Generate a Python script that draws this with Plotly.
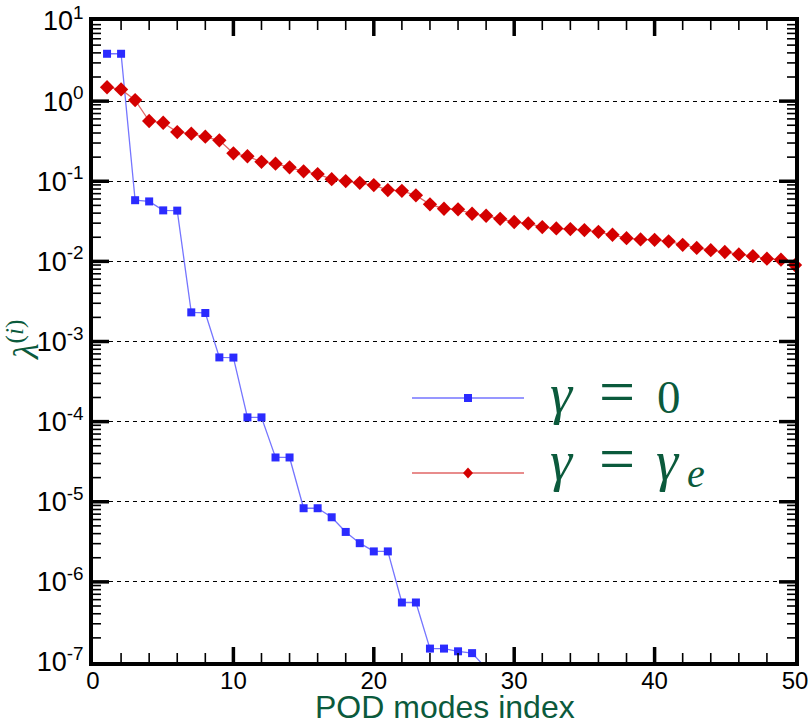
import plotly.graph_objects as go

# ---- data ----
modes_blue = list(range(1, 29))
lambda_gamma0 = [3.9, 3.9, 0.058, 0.056, 0.0433, 0.043, 0.00231, 0.00227, 6.33e-4, 6.3e-4,
                 1.13e-4, 1.13e-4, 3.57e-5, 3.57e-5, 8.3e-6, 8.3e-6, 6.4e-6, 4.2e-6, 3.04e-6, 2.4e-6,
                 2.4e-6, 5.53e-7, 5.53e-7, 1.47e-7, 1.47e-7, 1.36e-7, 1.29e-7, 8.4e-8]
modes_red = list(range(1, 51))
lambda_gammae = [1.49, 1.40, 1.03, 0.565, 0.537, 0.411, 0.392, 0.36, 0.324, 0.223,
                 0.205, 0.175, 0.1655, 0.149, 0.133, 0.123, 0.106, 0.1005, 0.0957, 0.0897,
                 0.0776, 0.076, 0.0667, 0.0515, 0.0454, 0.0446, 0.0393, 0.0371, 0.034, 0.031,
                 0.0298, 0.0268, 0.0258, 0.0253, 0.0246, 0.0234, 0.0215, 0.0195, 0.0188, 0.0186,
                 0.0178, 0.0161, 0.0147, 0.0138, 0.0131, 0.0122, 0.0116, 0.0108, 0.0105, 0.0090]
y_tick_vals = [1e-7, 1e-6, 1e-5, 1e-4, 1e-3, 1e-2, 1e-1, 1e0, 1e1]
y_tick_text = ["10<sup>-7</sup>", "10<sup>-6</sup>", "10<sup>-5</sup>", "10<sup>-4</sup>",
               "10<sup>-3</sup>", "10<sup>-2</sup>", "10<sup>-1</sup>", "10<sup>0</sup>", "10<sup>1</sup>"]
x_tick_vals = [0, 10, 20, 30, 40, 50]
x_title = "POD modes index"
y_title = "<i>λ</i><sup>(<i>i</i>)</sup>"

GREEN = "#0b5a3c"
BLUE_M, BLUE_L = "#2b2bff", "#7575ff"
RED_M, RED_L = "#d40000", "#e06666"
SERIF = "Liberation Serif"
SANS = "Liberation Sans"

# tick mark positions (axis decoration)
x_major_ticks = [10, 20, 30, 40]
x_minor_ticks = [v for v in range(2, 50, 2) if v % 10 != 0]
y_major_ticks = [1e-6, 1e-5, 1e-4, 1e-3, 1e-2, 1e-1, 1e0]
y_minor_ticks = [m * 10.0 ** e for e in range(-7, 1) for m in range(2, 10)]

fig = go.Figure()
fig.add_trace(go.Scatter(x=modes_blue, y=lambda_gamma0, mode="lines+markers",
                         line=dict(color=BLUE_L, width=1.3),
                         marker=dict(symbol="square", size=8, color=BLUE_M),
                         showlegend=False))
fig.add_trace(go.Scatter(x=modes_red, y=lambda_gammae, mode="lines+markers",
                         line=dict(color=RED_L, width=1.3),
                         marker=dict(symbol="diamond", size=11, color=RED_M),
                         cliponaxis=False, showlegend=False))

W, H = 810, 723
L, R, T, B = 93, 15, 21, 61
pw, ph = W - L - R, H - T - B

def px2x(px):
    return (px - L) / pw

def py2y(py):
    return (H - B - py) / ph

def ybox(baseline, size):
    return py2y(baseline - 0.3375 * size)

shapes = []
annotations = []

# ticks on all four sides
for vals, ln, wd in [(x_major_ticks, 15, 3.5), (x_minor_ticks, 9, 1.6)]:
    for v in vals:
        for y0, y1 in [(0, ln / ph), (1, 1 - ln / ph)]:
            shapes.append(dict(type="line", xref="x", yref="paper", x0=v, x1=v, y0=y0, y1=y1,
                               line=dict(color="black", width=wd), layer="above"))
for vals, ln, wd in [(y_major_ticks, 16, 3.5), (y_minor_ticks, 8, 1.6)]:
    for v in vals:
        for x0, x1 in [(0, ln / pw), (1, 1 - ln / pw)]:
            shapes.append(dict(type="line", xref="paper", yref="y", x0=x0, x1=x1, y0=v, y1=v,
                               line=dict(color="black", width=wd), layer="above"))

# manual legend
rows = [(BLUE_L, BLUE_M, "square", 398, 413), (RED_L, RED_M, "diamond", 473, 480)]
for i, (lc, mc, sym, py, base) in enumerate(rows):
    y = py2y(py)
    shapes.append(dict(type="line", xref="paper", yref="paper", x0=px2x(412), x1=px2x(524),
                       y0=y, y1=y, line=dict(color=lc, width=1.5)))
    cx = px2x(468)
    if sym == "square":
        dx, dy = 4 / pw, 4 / ph
        shapes.append(dict(type="rect", xref="paper", yref="paper", x0=cx - dx, x1=cx + dx,
                           y0=y - dy, y1=y + dy, fillcolor=mc, line=dict(width=0)))
    else:
        dx, dy = 5 / pw, 5.5 / ph
        path = f"M {cx - dx},{y} L {cx},{y + dy} L {cx + dx},{y} L {cx},{y - dy} Z"
        shapes.append(dict(type="path", xref="paper", yref="paper", path=path,
                           fillcolor=mc, line=dict(width=0)))
    pieces = [("<i>γ</i>", 548, "left", 56, base), ("=", 617, "center", 64, base)]
    if i == 0:
        pieces.append(("0", 669, "center", 47, base))
    else:
        pieces.append(("<i>γ</i>", 654, "left", 56, base))
        pieces.append(("<i>e</i>", 685, "left", 40, base + 7))
    for txt, xp, xa, sz, bl in pieces:
        annotations.append(dict(xref="paper", yref="paper", x=px2x(xp), y=ybox(bl, sz),
                                text=txt, showarrow=False, xanchor=xa, yanchor="middle",
                                font=dict(family=SERIF, size=sz, color=GREEN)))

annotations.append(dict(xref="paper", yref="paper", x=px2x(23), y=py2y(340), text=y_title,
                        textangle=-90, showarrow=False, xanchor="center", yanchor="middle",
                        font=dict(family=SERIF, size=36, color=GREEN)))
annotations.append(dict(xref="paper", yref="paper", x=px2x(445), y=py2y(707), text=x_title,
                        showarrow=False, xanchor="center", yanchor="middle",
                        font=dict(family=SANS, size=32, color=GREEN)))

fig.update_layout(
    template="none",
    width=W, height=H,
    margin=dict(l=L, r=R, t=T, b=B, autoexpand=False),
    paper_bgcolor="white", plot_bgcolor="white",
    shapes=shapes, annotations=annotations,
    font=dict(family=SANS, color="black"),
)
fig.update_xaxes(range=[0, 50], tickmode="array", tickvals=x_tick_vals, automargin=False,
                 ticks="", showline=True, linecolor="black", linewidth=4, mirror=True,
                 showgrid=False, zeroline=False, ticklabeloverflow="allow",
                 ticklabelstandoff=-6, tickfont=dict(size=24, color="black"))
fig.update_yaxes(type="log", range=[-7, 1], tickmode="array", tickvals=y_tick_vals,
                 ticktext=y_tick_text, automargin=False, ticklabeloverflow="allow",
                 ticks="", showline=True, linecolor="black", linewidth=4, mirror=True,
                 showgrid=True, gridcolor="black", gridwidth=1, griddash="4px,4px",
                 zeroline=False, tickfont=dict(size=27, color="black"))

fig.write_html("out.html", config={"displayModeBar": False},
               post_script="document.body.style.margin='0';")
